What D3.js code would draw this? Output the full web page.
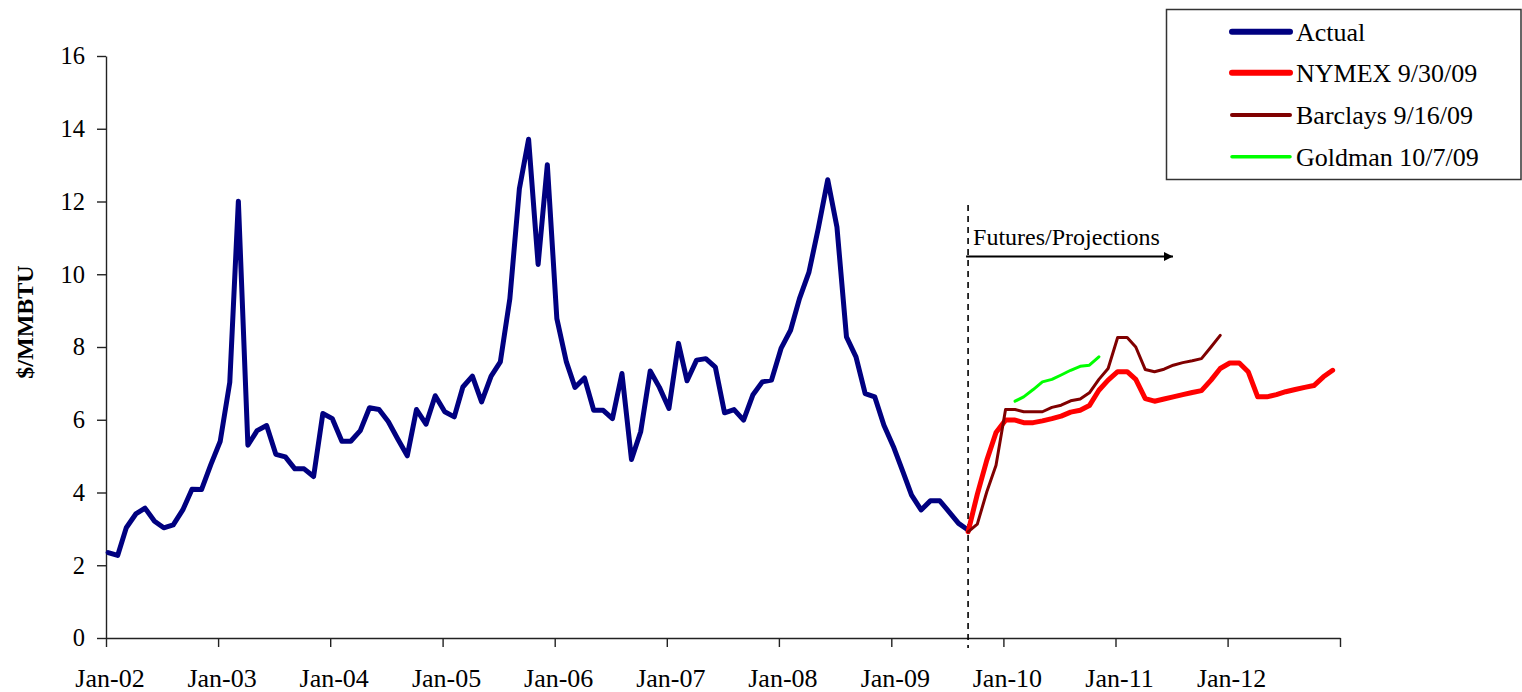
<!DOCTYPE html>
<html>
<head>
<meta charset="utf-8">
<script src="https://cdn.jsdelivr.net/npm/d3@7"></script>
<style>
  html, body { margin: 0; padding: 0; background: #fff; }
  svg { display: block; font-family: "Liberation Serif", "Times New Roman", serif; }
</style>
</head>
<body>
<svg id="chart" width="1522" height="692"></svg>
<script>
// Henry Hub natural gas price, monthly, $/MMBTU
const actualStart = [2002, 0];
const actualValues = [
  2.35, 2.27, 3.03, 3.41, 3.57, 3.21, 3.03, 3.11, 3.52, 4.09, 4.08, 4.76,
  5.41, 7.03, 12.01, 5.30, 5.70, 5.84, 5.05, 4.98, 4.65, 4.65, 4.44, 6.17,
  6.03, 5.41, 5.41, 5.70, 6.33, 6.28, 5.95, 5.47, 5.01, 6.28, 5.88, 6.66,
  6.22, 6.08, 6.90, 7.20, 6.49, 7.20, 7.59, 9.33, 12.35, 13.71, 10.27, 13.01,
  8.78, 7.59, 6.89, 7.15, 6.26, 6.26, 6.03, 7.27, 4.91, 5.67, 7.34, 6.89,
  6.31, 8.10, 7.07, 7.64, 7.68, 7.45, 6.19, 6.28, 5.99, 6.68, 7.04, 7.09,
  7.96, 8.46, 9.33, 10.06, 11.25, 12.60, 11.30, 8.28, 7.73, 6.72, 6.63, 5.85,
  5.26, 4.57, 3.93, 3.52, 3.77, 3.77, 3.47, 3.15, 2.97
];

// NYMEX futures strip as of 9/30/09
const nymexStart = [2009, 8];
const nymexValues = [
  2.92, 3.95, 4.89, 5.65, 5.99, 5.99, 5.92, 5.92, 5.97, 6.03, 6.10, 6.21,
  6.26, 6.39, 6.81, 7.09, 7.32, 7.32, 7.11, 6.58, 6.51, 6.57, 6.63, 6.69,
  6.75, 6.80, 7.09, 7.41, 7.56, 7.56, 7.32, 6.63, 6.63, 6.69, 6.77, 6.83,
  6.89, 6.94, 7.18, 7.36
];

// Barclays projection 9/16/09
const barclaysStart = [2009, 8];
const barclaysValues = [
  2.92, 3.13, 4.02, 4.75, 6.28, 6.28, 6.22, 6.22, 6.22, 6.34, 6.40, 6.52,
  6.57, 6.74, 7.11, 7.41, 8.26, 8.26, 8.00, 7.38, 7.32, 7.39, 7.50, 7.57,
  7.62, 7.68, 8.00, 8.32
];

// Goldman projection 10/7/09
const goldmanStart = [2010, 1];
const goldmanValues = [6.51, 6.63, 6.83, 7.04, 7.11, 7.23, 7.36, 7.47, 7.50, 7.73];

const seriesNames = ["Actual", "NYMEX 9/30/09", "Barclays 9/16/09", "Goldman 10/7/09"];
const seriesColors = ["#000080", "#ff0000", "#800000", "#00ff00"];
const seriesWidths = [5, 5, 3, 3];

const xTickLabels = ["Jan-02", "Jan-03", "Jan-04", "Jan-05", "Jan-06", "Jan-07",
                     "Jan-08", "Jan-09", "Jan-10", "Jan-11", "Jan-12", ""];
const yTickValues = [0, 2, 4, 6, 8, 10, 12, 14, 16];
const yTitle = "$/MMBTU";
const dividerLabel = "Futures/Projections";

// monthly points sit a week into each month
const monthly = (start, values) =>
  values.map((v, i) => ({ date: new Date(start[0], start[1] + i, 8), value: v }));

const series = [
  monthly(actualStart, actualValues),
  monthly(nymexStart, nymexValues),
  monthly(barclaysStart, barclaysValues),
  monthly(goldmanStart, goldmanValues)
];

const svg = d3.select("#chart");

const x = d3.scaleTime()
  .domain([new Date(2002, 0, 1), new Date(2013, 0, 1)])
  .range([106, 1340]);
const y = d3.scaleLinear().domain([0, 16]).range([638, 56]);

// axes
const yAxis = d3.axisLeft(y).tickValues(yTickValues).tickSize(9).tickSizeOuter(0).tickPadding(12);
const gy = svg.append("g").attr("transform", "translate(106,0)").call(yAxis);
gy.selectAll("text").attr("font-size", 24.5).attr("font-family", "Liberation Serif").attr("fill", "#000");

const yearTicks = d3.timeYear.range(new Date(2002, 0, 1), new Date(2013, 0, 2));
const xAxis = d3.axisBottom(x).tickValues(yearTicks).tickSize(9).tickSizeOuter(0).tickPadding(22)
  .tickFormat((d, i) => xTickLabels[i]);
const gx = svg.append("g").attr("transform", "translate(0,638)").call(xAxis);
gx.selectAll("text").attr("font-size", 26).attr("font-family", "Liberation Serif")
  .attr("fill", "#000").attr("dx", 3.5);

svg.selectAll(".domain, .tick line").attr("stroke", "#222").attr("stroke-width", 1.4);

// y title
svg.append("text")
  .attr("transform", "translate(33,322) rotate(-90)")
  .attr("text-anchor", "middle")
  .attr("font-size", 24).attr("font-weight", "bold")
  .text(yTitle);

// divider between history and forward curves
const dividerDate = series[0][series[0].length - 1].date;
const xd = x(dividerDate);
svg.append("line")
  .attr("x1", xd).attr("x2", xd).attr("y1", 205).attr("y2", 648)
  .attr("stroke", "#000").attr("stroke-width", 1.6).attr("stroke-dasharray", "6,5");

svg.append("defs").append("marker")
  .attr("id", "arrow").attr("viewBox", "0 0 10 10").attr("refX", 10).attr("refY", 5)
  .attr("markerWidth", 5.5).attr("markerHeight", 4.5).attr("markerUnits", "strokeWidth")
  .attr("orient", "auto")
  .append("path").attr("d", "M0,0 L10,5 L0,10 Z").attr("fill", "#000");

svg.append("line")
  .attr("x1", xd - 2).attr("x2", 1173).attr("y1", 256.5).attr("y2", 256.5)
  .attr("stroke", "#000").attr("stroke-width", 2).attr("marker-end", "url(#arrow)");

svg.append("text")
  .attr("x", xd + 5).attr("y", 245)
  .attr("font-size", 24)
  .text(dividerLabel);

// series lines
const line = d3.line().x(d => x(d.date)).y(d => y(d.value));
series.forEach((s, i) => {
  svg.append("path")
    .datum(s)
    .attr("d", line)
    .attr("fill", "none")
    .attr("stroke", seriesColors[i])
    .attr("stroke-width", seriesWidths[i])
    .attr("stroke-linejoin", "round")
    .attr("stroke-linecap", "round");
});

// legend
const lg = svg.append("g");
lg.append("rect")
  .attr("x", 1166.5).attr("y", 9.5).attr("width", 354.5).attr("height", 170)
  .attr("fill", "#fff").attr("stroke", "#333").attr("stroke-width", 1.5);
const rowY = [31.7, 72.7, 115, 156.7];
const legendWidths = [6, 6, 4, 3.5];
seriesNames.forEach((name, i) => {
  lg.append("line")
    .attr("x1", 1232).attr("x2", 1290).attr("y1", rowY[i]).attr("y2", rowY[i])
    .attr("stroke", seriesColors[i]).attr("stroke-width", legendWidths[i])
    .attr("stroke-linecap", "round");
  lg.append("text")
    .attr("x", 1296).attr("y", rowY[i]).attr("dy", "0.35em")
    .attr("font-size", 26)
    .text(name);
});
</script>
</body>
</html>
